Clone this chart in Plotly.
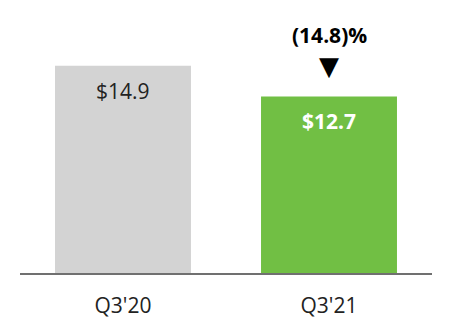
import plotly.graph_objects as go

categories = ["Q3'20", "Q3'21"]
values = [14.9, 12.7]
value_labels = ["$14.9", "$12.7"]
change_label = "(14.8)%"
bar_colors = ["#d3d3d3", "#71bf44"]
label_colors = ["#222222", "#ffffff"]
label_bold = [False, True]

fig = go.Figure()
fig.add_trace(go.Bar(
    x=categories, y=values, width=0.66,
    marker=dict(color=bar_colors, line=dict(width=0)),
    hoverinfo="skip",
))

for c, v, t, col, b in zip(categories, values, value_labels, label_colors, label_bold):
    fig.add_annotation(
        x=c, y=v, text=f"<b>{t}</b>" if b else t, showarrow=False,
        yanchor="top", yshift=-9,
        font=dict(family="Open Sans", size=21, color=col),
    )

fig.add_annotation(
    x=categories[1], y=values[1], text="▼", showarrow=False,
    yanchor="bottom", yshift=13,
    font=dict(family="DejaVu Sans", size=26, color="#000000"),
)
fig.add_annotation(
    x=categories[1], y=values[1], text=f"<b>{change_label}</b>", showarrow=False,
    yanchor="bottom", yshift=45,
    font=dict(family="Open Sans", size=21, color="#000000"),
)

fig.update_layout(
    width=452, height=332,
    margin=dict(l=20, r=20, t=20, b=59),
    paper_bgcolor="white", plot_bgcolor="white",
    showlegend=False,
    bargap=0.34,
    xaxis=dict(
        type="category", range=[-0.5, 1.5],
        showline=True, linecolor="#707070", linewidth=2,
        showgrid=False, zeroline=False, ticks="",
        ticklabelstandoff=13,
        tickfont=dict(family="Open Sans", size=21, color="#222222"),
    ),
    yaxis=dict(
        range=[0, 18.2], visible=False, showgrid=False, zeroline=False,
    ),
)

fig.write_html("out.html")
